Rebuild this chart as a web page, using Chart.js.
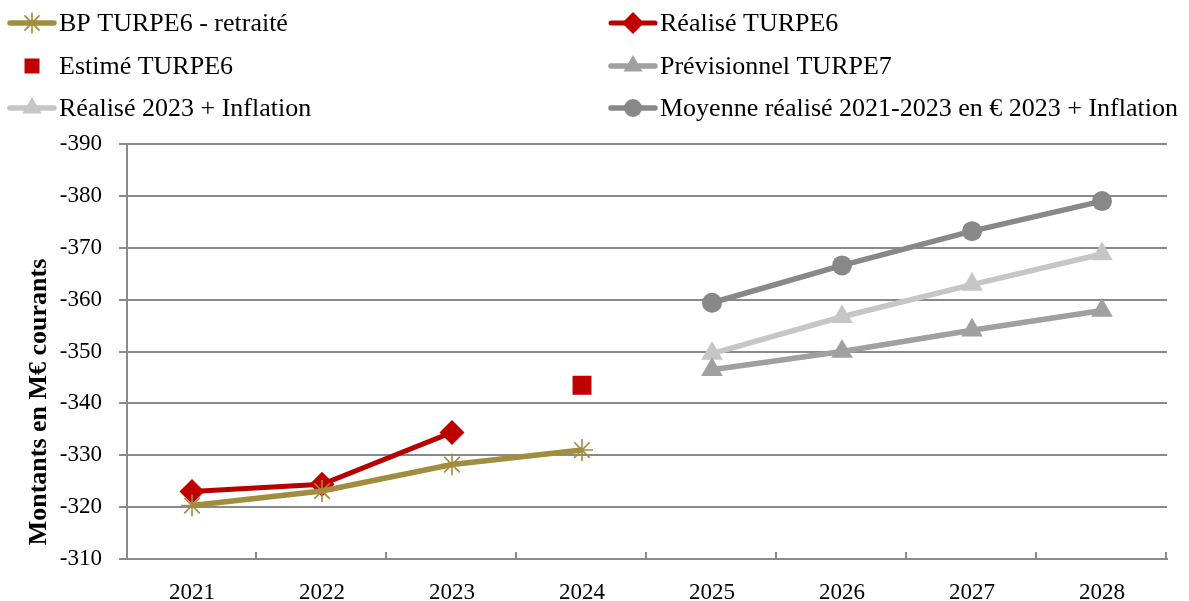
<!DOCTYPE html>
<html>
<head>
<meta charset="utf-8">
<script src="https://cdn.jsdelivr.net/npm/chart.js@4/dist/chart.umd.min.js"></script>
<style>
html,body{margin:0;padding:0;background:#fff;}
canvas{display:block;}
</style>
</head>
<body>
<canvas id="c" width="1189" height="601"></canvas>
<script>
const years = ['2021','2022','2023','2024','2025','2026','2027','2028'];
const bpTurpe6 = [-320.3, -323.1, -328.2, -331.0, null, null, null, null];
const realiseTurpe6 = [-323.0, -324.4, -334.4, null, null, null, null, null];
const estimeTurpe6 = [null, null, null, -343.5, null, null, null, null];
const previsionnelTurpe7 = [null, null, null, null, -346.5, -350.0, -354.1, -357.9];
const realise2023Inflation = [null, null, null, null, -349.6, -356.7, -362.9, -368.8];
const moyenneRealise = [null, null, null, null, -359.4, -366.6, -373.2, -379.0];
const yTicks = [-390, -380, -370, -360, -350, -340, -330, -320, -310];
const yTitle = 'Montants en M€ courants';

const FONT = '"Liberation Serif", "Times New Roman", serif';
const GRID = '#8a8a8a';

const datasets = [
  {label:'BP TURPE6 - retraité', data:bpTurpe6, borderColor:'#A08D3E', backgroundColor:'#A08D3E',
   borderWidth:5.5, pointStyle:'star', pointRadius:11, pointBorderWidth:1.6, pointBorderColor:'#A08D3E', showLine:true, legendR:10},
  {label:'Réalisé TURPE6', data:realiseTurpe6, borderColor:'#B80000', backgroundColor:'#BF0000',
   borderWidth:5, pointStyle:'rectRot', pointRadius:12.5, pointBorderWidth:0, showLine:true, legendR:11},
  {label:'Estimé TURPE6', data:estimeTurpe6, borderColor:'#C00000', backgroundColor:'#C00000',
   borderWidth:0, pointStyle:'rect', pointRadius:13.4, pointBorderWidth:0, showLine:false, legendR:10.6},
  {label:'Prévisionnel TURPE7', data:previsionnelTurpe7, borderColor:'#A0A0A0', backgroundColor:'#A0A0A0',
   borderWidth:5.5, pointStyle:'triangle', pointRadius:12.5, pointBorderWidth:0, showLine:true, legendR:11},
  {label:'Réalisé 2023 + Inflation', data:realise2023Inflation, borderColor:'#C6C6C6', backgroundColor:'#C6C6C6',
   borderWidth:5.5, pointStyle:'triangle', pointRadius:12.5, pointBorderWidth:0, showLine:true, legendR:11},
  {label:'Moyenne réalisé 2021-2023 en € 2023 + Inflation', data:moyenneRealise, borderColor:'#888888', backgroundColor:'#888888',
   borderWidth:5.5, pointStyle:'circle', pointRadius:10, pointBorderWidth:0, showLine:true, legendR:9}
];

const extras = {
  id:'extras',
  afterDraw(chart){
    const ctx = chart.ctx;
    const ca = chart.chartArea;
    // inner ticks between categories on x axis
    ctx.save();
    ctx.strokeStyle = GRID; ctx.lineWidth = 2;
    const step = (ca.right - ca.left) / years.length;
    for (let i = 1; i <= years.length; i++) {
      const x = Math.round(ca.left + i*step) - 1;
      ctx.beginPath(); ctx.moveTo(x, ca.bottom); ctx.lineTo(x, ca.bottom - 7); ctx.stroke();
    }
    ctx.restore();
    // y title
    ctx.save();
    ctx.translate(39, 402);
    ctx.rotate(-Math.PI/2);
    ctx.font = 'bold 26px ' + FONT;
    ctx.fillStyle = '#000';
    ctx.textAlign = 'center'; ctx.textBaseline = 'middle';
    ctx.fillText(yTitle, 0, 0);
    ctx.restore();
    // legend
    const colX = [8, 609];
    const rowY = [23, 66, 108];
    chart.data.datasets.forEach((ds, i) => {
      const col = i % 2, row = Math.floor(i / 2);
      const x0 = colX[col], y = rowY[row];
      const x1 = x0 + 48, xm = (x0 + x1) / 2;
      ctx.save();
      if (ds.showLine) {
        ctx.strokeStyle = ds.borderColor; ctx.lineWidth = ds.borderWidth;
        ctx.lineCap = 'round';
        ctx.beginPath(); ctx.moveTo(x0 + 2, y); ctx.lineTo(x1 - 2, y); ctx.stroke();
      }
      ctx.fillStyle = ds.backgroundColor;
      ctx.strokeStyle = ds.pointBorderColor || ds.borderColor;
      ctx.lineWidth = ds.pointBorderWidth;
      Chart.helpers.drawPoint(ctx, {pointStyle: ds.pointStyle, radius: ds.legendR, rotation: 0, borderWidth: ds.pointBorderWidth}, ds.showLine ? xm : 32, y);
      ctx.font = '26px ' + FONT;
      ctx.fillStyle = '#000';
      ctx.textAlign = 'left'; ctx.textBaseline = 'middle';
      ctx.fillText(ds.label, x1 + 3, y + 1);
      ctx.restore();
    });
  }
};

new Chart(document.getElementById('c'), {
  type:'line',
  data:{labels:years, datasets:datasets},
  options:{
    responsive:false, animation:false, devicePixelRatio:1,
    layout:{padding:{top:144, right:22, left:0, bottom:0}},
    plugins:{legend:{display:false}, tooltip:{enabled:false}, title:{display:false}},
    scales:{
      x:{
        offset:true,
        grid:{display:true, drawOnChartArea:false, drawTicks:false},
        border:{display:true, color:GRID, width:2},
        ticks:{font:{family:FONT, size:23}, color:'#000', padding:20, maxRotation:0},
        afterFit(s){ s.height = 42; }
      },
      y:{
        reverse:true, min:-390, max:-310,
        afterBuildTicks(s){ s.ticks = yTicks.map(v => ({value:v})); },
        grid:{color:GRID, lineWidth:2, tickLength:8, drawTicks:true},
        border:{display:true, color:GRID, width:2},
        ticks:{font:{family:FONT, size:23}, color:'#000', padding:17},
        afterFit(s){ s.width = 127; }
      }
    }
  },
  plugins:[extras]
});
</script>
</body>
</html>
